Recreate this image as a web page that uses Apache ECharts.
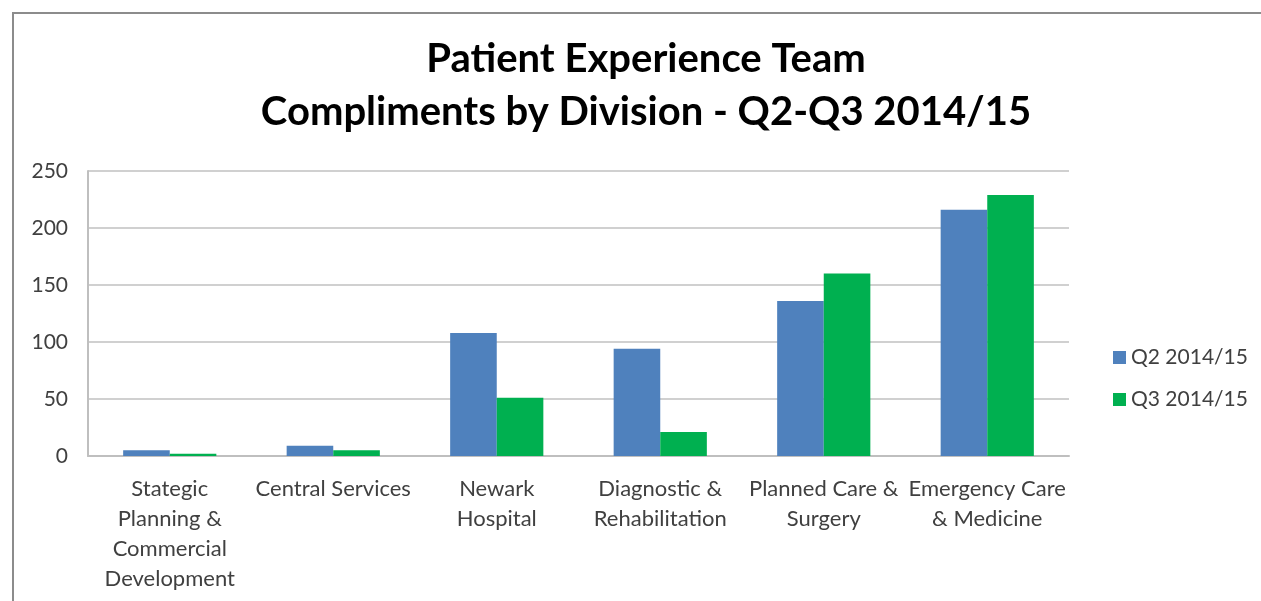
<!DOCTYPE html>
<html>
<head>
<meta charset="utf-8">
<script src="https://cdn.jsdelivr.net/npm/echarts@6/dist/echarts.min.js"></script>
<style>
  html, body { margin: 0; padding: 0; background: #fff; }
  #frame { position: absolute; left: 0; top: 0; width: 1261px; height: 601px; }
  #border { position: absolute; left: 12px; top: 12px; right: 0; bottom: 0; border-left: 2px solid #8c8c8c; border-top: 2px solid #8c8c8c; }
  #chart { position: absolute; left: 0; top: 0; width: 1261px; height: 601px; }
</style>
</head>
<body>
<div id="frame">
  <div id="border"></div>
  <div id="chart"></div>
</div>
<script>
  const divisions = [
    "Stategic\nPlanning &\nCommercial\nDevelopment",
    "Central Services",
    "Newark\nHospital",
    "Diagnostic &\nRehabilitation",
    "Planned Care &\nSurgery",
    "Emergency Care\n& Medicine",
  ];
  const q2Values = [5, 9, 108, 94, 136, 216];
  const q3Values = [2, 5, 51, 21, 160, 229];
  const seriesNames = ["Q2 2014/15", "Q3 2014/15"];

  var chart = echarts.init(document.getElementById("chart"), null, { renderer: "canvas" });
  var labelColor = "#404040";
  var option = {
    backgroundColor: "transparent",
    animation: false,
    textStyle: { fontFamily: "Lato, 'Open Sans', sans-serif" },
    title: {
      text: "Patient Experience Team\nCompliments by Division - Q2-Q3 2014/15",
      left: 641,
      textAlign: "center",
      top: 28,
      textStyle: {
        fontSize: 40,
        fontWeight: "bold",
        color: "#000",
        lineHeight: 53,
        fontFamily: "Lato, sans-serif",
      },
    },
    legend: {
      orient: "vertical",
      left: 1108,
      top: 342,
      itemWidth: 13,
      itemHeight: 13,
      itemGap: 21,
      icon: "rect",
      textStyle: { fontSize: 21, color: labelColor },
      data: seriesNames,
    },
    grid: {
      left: 88,
      right: 192,
      top: 171,
      bottom: 145,
    },
    xAxis: {
      type: "category",
      data: divisions,
      axisTick: { show: false },
      axisLine: { lineStyle: { color: "#bfbfbf", width: 2 } },
      axisLabel: {
        interval: 0,
        color: labelColor,
        fontSize: 22,
        lineHeight: 30,
        margin: 18,
      },
    },
    yAxis: {
      type: "value",
      min: 0,
      max: 250,
      interval: 50,
      axisLine: { show: true, lineStyle: { color: "#bfbfbf", width: 2 } },
      axisTick: { show: false },
      axisLabel: { color: labelColor, fontSize: 21, margin: 20 },
      splitLine: { lineStyle: { color: "#d0d0d0", width: 2 } },
    },
    series: [
      {
        name: seriesNames[0],
        type: "bar",
        data: q2Values,
        barGap: "0%",
        barCategoryGap: "43%",
        itemStyle: { color: "#4f81bd" },
      },
      {
        name: seriesNames[1],
        type: "bar",
        data: q3Values,
        barGap: "0%",
        barCategoryGap: "43%",
        itemStyle: { color: "#00b050" },
      },
    ],
  };
  option && chart.setOption(option);
</script>
</body>
</html>
